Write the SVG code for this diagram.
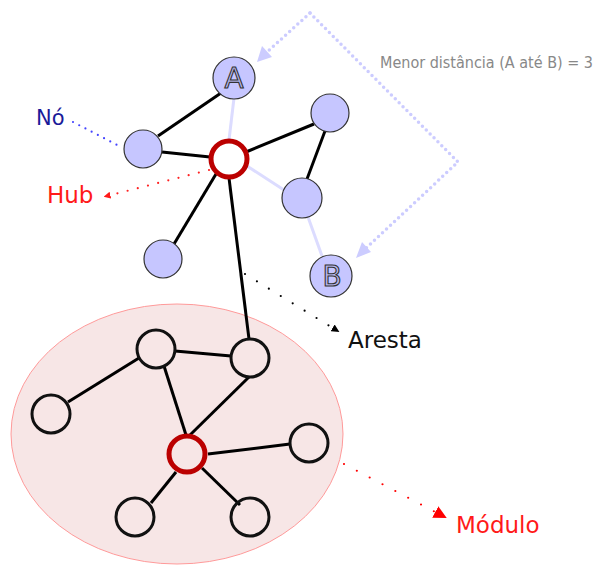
<svg xmlns="http://www.w3.org/2000/svg" width="595" height="566" viewBox="0 0 595 566">
<defs>
<style>
.edge{stroke:#000;stroke-width:3;fill:none}
.light{stroke:#dcdcff;stroke-width:3;fill:none}
.node{fill:#c6c6ff;stroke:#333;stroke-width:1.2}
.mnode{fill:none;stroke:#111;stroke-width:3}
.hub{fill:#fff;stroke:#bb0000;stroke-width:5}
.hub2{fill:none;stroke:#bb0000;stroke-width:5}
.lbl{font-family:"DejaVu Sans",sans-serif;font-size:23px}
.letter{font-family:"DejaVu Sans",sans-serif;font-size:28px;fill:#b8b8f0;stroke:#333;stroke-width:1.1;text-anchor:middle}
.path{stroke:#ccccff;stroke-width:3.5;fill:none;stroke-dasharray:0 5.5;stroke-linecap:round}
</style>
<marker id="arK" viewBox="0 0 10 10" refX="5" refY="5" markerWidth="8" markerHeight="8" orient="auto" markerUnits="userSpaceOnUse"><path d="M0,0 L10,5 L0,10 Z" fill="#000"/></marker>
<marker id="arR" viewBox="0 0 10 10" refX="5" refY="5" markerWidth="7" markerHeight="7" orient="auto" markerUnits="userSpaceOnUse"><path d="M0,0 L10,5 L0,10 Z" fill="#ff1a1a"/></marker>
<marker id="arR2" viewBox="0 0 10 10" refX="5" refY="5" markerWidth="13" markerHeight="13" orient="auto" markerUnits="userSpaceOnUse"><path d="M0,0 L10,5 L0,10 Z" fill="#ff0000"/></marker>
</defs>

<g id="modulo">
<ellipse cx="177" cy="434" rx="166" ry="130" fill="#f7e6e6" stroke="#ff9a9a" stroke-width="1"/>
</g>

<g id="connectors">
<line class="light" x1="234" y1="98" x2="229" y2="140"/>
<line class="light" x1="247" y1="166" x2="284" y2="190"/>
<line class="light" x1="308" y1="217" x2="322" y2="256"/>
<line class="edge" x1="221" y1="93" x2="158" y2="136"/>
<line class="edge" x1="162" y1="152" x2="210" y2="157"/>
<line class="edge" x1="246" y1="152" x2="314" y2="124"/>
<line class="edge" x1="325" y1="131" x2="307" y2="179"/>
<line class="edge" x1="216" y1="174" x2="174" y2="244"/>
<line class="edge" x1="229" y1="178" x2="249" y2="339"/>
<line class="edge" x1="175" y1="351" x2="231" y2="356"/>
<line class="edge" x1="139" y1="358" x2="68" y2="402"/>
<line class="edge" x1="164" y1="366" x2="186" y2="435"/>
<line class="edge" x1="249" y1="377" x2="190" y2="435"/>
<line class="edge" x1="208" y1="454" x2="290" y2="444"/>
<line class="edge" x1="176" y1="472" x2="151" y2="503"/>
<line class="edge" x1="202" y1="468" x2="240" y2="505"/>
<polyline class="path" points="310,13 458,162 362,252"/>
<line class="path" x1="310" y1="13" x2="266" y2="53"/>
<path d="M257,62 L262,46 L272,57 Z" fill="#ccccff"/>
<path d="M356,258 L362,242 L371,252 Z" fill="#ccccff"/>
<line x1="73" y1="122" x2="121" y2="147" stroke="#4444ff" stroke-width="2.2" stroke-linecap="round" stroke-dasharray="0 7"/>
<line x1="209" y1="170" x2="107" y2="196" stroke="#ff2222" stroke-width="2.2" stroke-linecap="round" stroke-dasharray="0 10.5" marker-end="url(#arR)"/>
<line x1="245" y1="274" x2="336" y2="330" stroke="#000" stroke-width="2.2" stroke-linecap="round" stroke-dasharray="0 14" marker-end="url(#arK)"/>
<line x1="344" y1="464" x2="441" y2="515" stroke="#ff0000" stroke-width="2.2" stroke-linecap="round" stroke-dasharray="0 14.5" marker-end="url(#arR2)"/>
</g>

<g id="nodeA"><circle class="node" cx="234" cy="78" r="21"/><text class="letter" x="234" y="88">A</text></g>
<g id="node1"><circle class="node" cx="143" cy="149" r="19"/></g>
<g id="node2"><circle class="node" cx="330" cy="113" r="19"/></g>
<g id="node3"><circle class="node" cx="302" cy="198" r="20"/></g>
<g id="node4"><circle class="node" cx="163" cy="259" r="19"/></g>
<g id="nodeB"><circle class="node" cx="331" cy="276" r="21"/><text class="letter" x="332" y="286">B</text></g>
<g id="hub1"><circle class="hub" cx="229" cy="159" r="18"/></g>

<g id="m1"><circle class="mnode" cx="156" cy="349" r="19"/></g>
<g id="m2"><circle class="mnode" cx="250" cy="358" r="19"/></g>
<g id="m3"><circle class="mnode" cx="51" cy="414" r="19"/></g>
<g id="hub2"><circle class="hub2" cx="187" cy="454" r="18"/></g>
<g id="m5"><circle class="mnode" cx="309" cy="443" r="19"/></g>
<g id="m6"><circle class="mnode" cx="135" cy="517" r="19"/></g>
<g id="m7"><circle class="mnode" cx="250" cy="517" r="19"/></g>

<g id="labels">
<text class="lbl" x="36" y="125" fill="#1a1a99" style="font-size:21px">Nó</text>
<text class="lbl" x="47" y="203" fill="#ff1a1a">Hub</text>
<text class="lbl" x="348" y="348" fill="#111">Aresta</text>
<text class="lbl" x="456" y="533" fill="#ff1a1a">Módulo</text>
<text x="380" y="68" fill="#888" style="font-family:'DejaVu Sans Condensed','DejaVu Sans',sans-serif;font-size:16px;font-stretch:condensed">Menor distância (A até B) = 3</text>
</g>
</svg>
